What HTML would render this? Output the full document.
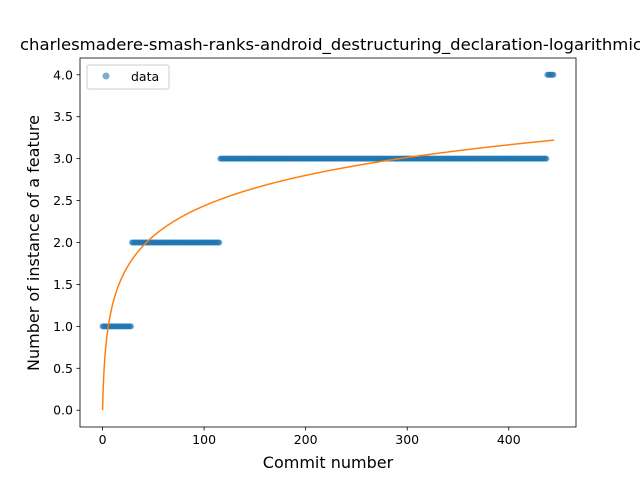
<!DOCTYPE html>
<html><head><meta charset="utf-8"><style>
body{margin:0;background:#fff;}
svg{display:block;font-family:"DejaVu Sans","Liberation Sans",sans-serif;}
</style></head><body>
<svg id="chart" width="640" height="480">
<rect x="0" y="0" width="640" height="480" fill="#fff"/>
<text x="20" y="50" font-size="16" textLength="622" lengthAdjust="spacingAndGlyphs">charlesmadere-smash-ranks-android_destructuring_declaration-logarithmic</text>
<g id="plot"></g>
<text x="328" y="468" text-anchor="middle" font-size="16">Commit number</text>
<text transform="translate(39,243) rotate(-90)" text-anchor="middle" font-size="16">Number of instance of a feature</text>
</svg>
<script>
const stepStart=[0,29,116,438];
const stepValue=[1,2,3,4];
const pointCount=445;
const fitA=0;
const fitB=0.528;
const xTicks=[0,100,200,300,400];
const yTicks=[0,0.5,1,1.5,2,2.5,3,3.5,4];

const L=80,R=576,T=58,B=427;
const xmin=-22.2,xmax=466.2,ymin=-0.2,ymax=4.2;
const sx=v=>L+(v-xmin)/(xmax-xmin)*(R-L);
const sy=v=>B-(v-ymin)/(ymax-ymin)*(B-T);
const NS="http://www.w3.org/2000/svg";
const g=document.getElementById('plot');
function mk(t,a,p){const e=document.createElementNS(NS,t);for(const k in a)e.setAttribute(k,a[k]);(p||g).appendChild(e);return e;}

const pts=mk('g',{});


for(let i=0;i<pointCount;i++){
  let v=stepValue[0];
  for(let k=0;k<stepStart.length;k++) if(i>=stepStart[k]) v=stepValue[k];
  const c=mk('circle',{cx:sx(i),cy:sy(v),r:3,fill:'#1f77b4','fill-opacity':0.6},pts);
  
  
}
let d='';
for(let i=0;i<pointCount;i+=0.5){d+=(i?'L':'M')+sx(i).toFixed(2)+','+sy(fitA+fitB*Math.log(i+1)).toFixed(2);}
const fl=mk('path',{d:d,fill:'none',stroke:'#ff7f0e','stroke-width':1.5});



const fr=mk('rect',{x:L,y:T,width:R-L,height:B-T,fill:'none',stroke:'#000','stroke-width':0.8});


xTicks.forEach(t=>{
  mk('line',{x1:sx(t),x2:sx(t),y1:B,y2:B+3.5,stroke:'#000','stroke-width':0.8});
  const tx=mk('text',{x:sx(t),y:B+17,'text-anchor':'middle','font-size':12.5});
  tx.textContent=t;
  
  
});
yTicks.forEach(t=>{
  mk('line',{x1:L-3.5,x2:L,y1:sy(t),y2:sy(t),stroke:'#000','stroke-width':0.8});
  const tx=mk('text',{x:L-7,y:sy(t)+4.5,'text-anchor':'end','font-size':12.5});
  tx.textContent=t.toFixed(1);
  
  
});
const lg=mk('g',{});


mk('rect',{x:87,y:65,width:82,height:24,rx:2,fill:'#fff','fill-opacity':0.8,stroke:'#ccc'},lg);
mk('circle',{cx:106,cy:76,r:3.5,fill:'#1f77b4','fill-opacity':0.6},lg);
const lt=mk('text',{x:131,y:81,'font-size':12.5},lg);
lt.textContent='data';


</script>
</body></html>
